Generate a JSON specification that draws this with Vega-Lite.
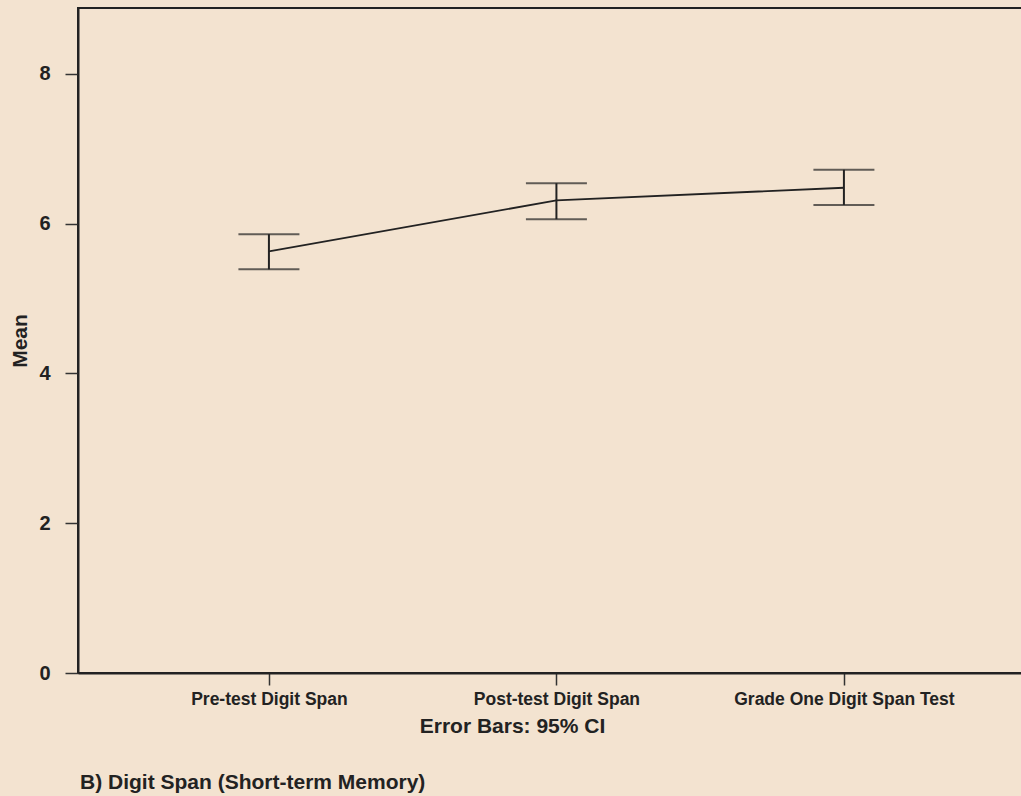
{
  "$schema": "https://vega.github.io/schema/vega-lite/v6.json",
  "width": 945,
  "height": 665,
  "autosize": {"type": "none"},
  "padding": {"left": 78, "top": 8, "right": -2, "bottom": 123},
  "background": "#f3e3d0",
  "config": {
    "view": {"stroke": "#222222", "strokeWidth": 2, "fill": "#f3e3d0"},
    "font": "Liberation Sans"
  },
  "title": {
    "text": "B) Digit Span (Short-term Memory)",
    "orient": "bottom",
    "anchor": "start",
    "frame": "group",
    "fontSize": 21,
    "fontWeight": "bold",
    "color": "#222222",
    "offset": 35,
    "dx": 2
  },
  "data": {
    "values": [
      {"test": "Pre-test Digit Span", "mean": 5.63, "lower": 5.39, "upper": 5.86},
      {"test": "Post-test Digit Span", "mean": 6.31, "lower": 6.06, "upper": 6.54},
      {"test": "Grade One Digit Span Test", "mean": 6.48, "lower": 6.25, "upper": 6.72}
    ]
  },
  "encoding": {
    "x": {
      "field": "test",
      "type": "nominal",
      "sort": null,
      "scale": {"type": "point", "padding": 0.6435, "align": 0.516},
      "axis": {
        "title": "Error Bars: 95% CI",
        "titleFontSize": 21,
        "titleFontWeight": "bold",
        "titleColor": "#222222",
        "titleX": 434,
        "titlePadding": 8,
        "labelFontSize": 17.5,
        "labelFontWeight": "bold",
        "labelColor": "#222222",
        "labelAngle": 0,
        "labelLimit": 0,
        "labelPadding": 5,
        "tickSize": 12,
        "tickColor": "#333333",
        "tickWidth": 1.5,
        "domainColor": "#222222",
        "domainWidth": 2,
        "grid": false
      }
    }
  },
  "layer": [
    {
      "mark": {"type": "line", "color": "#222222", "strokeWidth": 1.8},
      "encoding": {
        "y": {
          "field": "mean",
          "type": "quantitative",
          "scale": {"domain": [0, 8.88], "nice": false, "zero": true},
          "axis": {
            "title": "Mean",
            "titleFontSize": 21,
            "titleFontWeight": "bold",
            "titleColor": "#222222",
            "titlePadding": 8,
            "values": [0, 2, 4, 6, 8],
            "format": "d",
            "labelFontSize": 20,
            "labelFontWeight": "bold",
            "labelColor": "#222222",
            "labelPadding": 15,
            "tickSize": 13,
            "tickColor": "#333333",
            "tickWidth": 1.5,
            "domainColor": "#222222",
            "domainWidth": 2,
            "grid": false
          }
        }
      }
    },
    {
      "mark": {"type": "rule", "color": "#222222", "strokeWidth": 2},
      "encoding": {
        "y": {"field": "lower", "type": "quantitative"},
        "y2": {"field": "upper"}
      }
    },
    {
      "mark": {"type": "tick", "color": "#222222", "size": 61, "thickness": 2, "orient": "horizontal"},
      "encoding": {
        "y": {"field": "lower", "type": "quantitative"}
      }
    },
    {
      "mark": {"type": "tick", "color": "#222222", "size": 61, "thickness": 2, "orient": "horizontal"},
      "encoding": {
        "y": {"field": "upper", "type": "quantitative"}
      }
    }
  ]
}
